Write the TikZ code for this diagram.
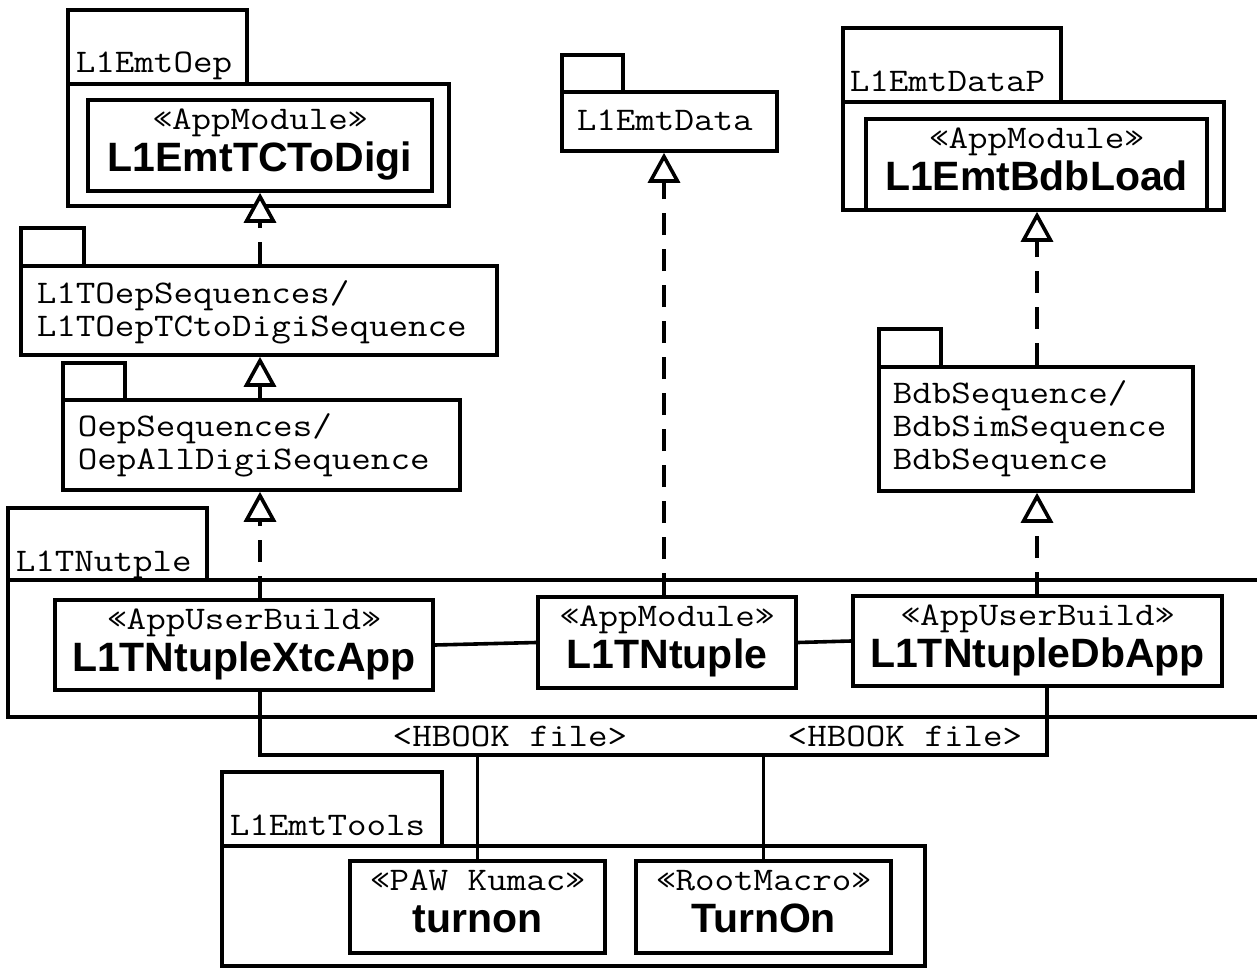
\documentclass[tikz,border=0pt]{standalone}
\usepackage{fontspec}
\setmainfont{Liberation Sans}
\newfontfamily\monof[FakeStretch=1.15]{Latin Modern Mono}
\usetikzlibrary{arrows.meta,fit}

\tikzset{
  frame/.style={draw, inner sep=0pt},
  mono/.style={font=\monof\fontsize{33}{40}\selectfont, inner sep=0pt},
  title/.style={font=\bfseries\fontsize{41}{48}\selectfont, inner sep=0pt},
  realize/.style={dash pattern=on 22pt off 14pt,
    -{Triangle[fill=white, length=30pt, width=32pt]}},
}

\begin{document}
\begin{tikzpicture}[x=1pt, y=-1pt, line width=3.6pt]
\useasboundingbox (0,0) rectangle (1257,968);

% ---------- packages: tab + body ----------
% L1EmtOep
\node[frame, fit={(68,10) (247,84)}] (oepT) {};
\node[frame, fit={(68,84) (449,206)}] (oepB) {};
\node[mono, anchor=base west] (oepL) at (74,73) {L1EmtOep};

% L1TOepSequences
\node[frame, fit={(21,228) (84,266)}] (toepT) {};
\node[frame, fit={(21,266) (497,355)}] (toepB) {};
\node[mono, anchor=base west] (toepL1) at (35,303) {L1TOepSequences/};
\node[mono, anchor=base west] (toepL2) at (35,336) {L1TOepTCtoDigiSequence};

% OepSequences
\node[frame, fit={(63,363) (125,400)}] (oepseqT) {};
\node[frame, fit={(63,400) (460,490)}] (oepseqB) {};
\node[mono, anchor=base west] (oepseqL1) at (76,436) {OepSequences/};
\node[mono, anchor=base west] (oepseqL2) at (76,469) {OepAllDigiSequence};

% L1TNutple (body runs past the right edge)
\node[frame, fit={(8,508) (207,580)}] (ntpT) {};
\draw (1265,580) -- (8,580) -- (8,717) -- (1265,717);
\node[mono, anchor=base west] (ntpL) at (14,571) {L1TNutple};

% L1EmtData
\node[frame, fit={(562,55) (623,92)}] (edT) {};
\node[frame, fit={(562,92) (777,151)}] (edB) {};
\node[mono, anchor=base west] (edL) at (575,131) {L1EmtData};

% L1EmtDataP
\node[frame, fit={(843,28) (1061,102)}] (dpT) {};
\node[frame, fit={(843,102) (1224,210)}] (dpB) {};
\node[mono, anchor=base west] (dpL) at (848,92) {L1EmtDataP};

% BdbSequence
\node[frame, fit={(879,329) (941,367)}] (bsT) {};
\node[frame, fit={(879,367) (1193,491)}] (bsB) {};
\node[mono, anchor=base west] (bsL1) at (891,403) {BdbSequence/};
\node[mono, anchor=base west] (bsL2) at (891,436) {BdbSimSequence};
\node[mono, anchor=base west] (bsL3) at (891,469) {BdbSequence};

% L1EmtTools
\node[frame, fit={(222,772) (442,846)}] (toolsT) {};
\node[frame, fit={(222,846) (925,966)}] (toolsB) {};
\node[mono, anchor=base west] (toolsL) at (228,835) {L1EmtTools};

% ---------- components ----------
\node[frame, fit={(88,100) (432,191)}] (tc) {};
\node[mono, anchor=base] (tcS) at ([yshift=-31pt]tc.north) {«AppModule»};
\node[title, anchor=base] (tcN) at ([yshift=-73pt]tc.north) {L1EmtTCToDigi};

\node[frame, fit={(866,119) (1207,210)}] (bl) {};
\node[mono, anchor=base] (blS) at ([yshift=-31pt]bl.north) {«AppModule»};
\node[title, anchor=base] (blN) at ([yshift=-73pt]bl.north) {L1EmtBdbLoad};

\node[frame, fit={(55,600) (433,690)}] (xtc) {};
\node[mono, anchor=base] (xtcS) at ([yshift=-31pt]xtc.north) {«AppUserBuild»};
\node[title, anchor=base] (xtcN) at ([yshift=-73pt]xtc.north) {L1TNtupleXtcApp};

\node[frame, fit={(538,597) (796,688)}] (tn) {};
\node[mono, anchor=base] (tnS) at ([yshift=-31pt]tn.north) {«AppModule»};
\node[title, anchor=base] (tnN) at ([yshift=-73pt]tn.north) {L1TNtuple};

\node[frame, fit={(853,596) (1222,686)}] (db) {};
\node[mono, anchor=base] (dbS) at ([yshift=-31pt]db.north) {«AppUserBuild»};
\node[title, anchor=base] (dbN) at ([yshift=-73pt]db.north) {L1TNtupleDbApp};

\node[frame, fit={(350,861) (605,953)}] (paw) {};
\node[mono, anchor=base] (pawS) at ([yshift=-31pt]paw.north) {«PAW Kumac»};
\node[title, anchor=base] (pawN) at ([yshift=-73pt]paw.north) {turnon};

\node[frame, fit={(636,861) (891,953)}] (root) {};
\node[mono, anchor=base] (rootS) at ([yshift=-31pt]root.north) {«RootMacro»};
\node[title, anchor=base] (rootN) at ([yshift=-73pt]root.north) {TurnOn};

% ---------- connectors ----------
\coordinate (c1) at (260,0);
\coordinate (c2) at (664,0);
\coordinate (c3) at (1037,0);
\coordinate (h1) at (260,0);
\coordinate (h2) at (1047,0);
\coordinate (bus) at (0,755);

\draw[realize] (xtc.north -| c1) -- (oepseqB.south -| c1);
\draw[realize] (oepseqB.north -| c1) -- (toepB.south -| c1);
\draw[realize] (toepB.north -| c1) -- (tc.south -| c1);
\draw[realize] (tn.north -| c2) -- (edB.south -| c2);
\draw[realize] (db.north -| c3) -- (bsB.south -| c3);
\draw[realize] (bsB.north -| c3) -- (bl.south -| c3);

\draw (xtc.east) -- (tn.west);
\draw (tn.east) -- (db.west);
\draw (xtc.south -| h1) -- (h1 |- bus) -- (h2 |- bus) -- (db.south -| h2);
\draw (paw.north) -- (paw.north |- bus);
\draw (root.north) -- (root.north |- bus);

\node[mono, anchor=base] (hb1) at (510,746) {<HBOOK file>};
\node[mono, anchor=base] (hb2) at (905,746) {<HBOOK file>};
\end{tikzpicture}
\end{document}
